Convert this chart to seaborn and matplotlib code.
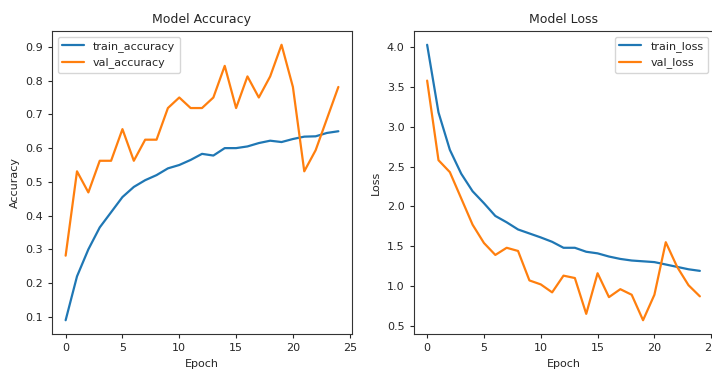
import numpy as np
import pandas as pd
import matplotlib
matplotlib.use("Agg")
import matplotlib.pyplot as plt
import seaborn as sns

# training history
epochs = list(range(25))
train_accuracy = [0.09, 0.22, 0.30, 0.365, 0.41, 0.455, 0.485, 0.505, 0.52, 0.54,
                  0.55, 0.565, 0.583, 0.578, 0.60, 0.60, 0.605, 0.615, 0.622, 0.618,
                  0.627, 0.634, 0.635, 0.645, 0.65]
val_accuracy = [0.28125, 0.53125, 0.46875, 0.5625, 0.5625, 0.65625, 0.5625, 0.625, 0.625, 0.71875,
                0.75, 0.71875, 0.71875, 0.75, 0.84375, 0.71875, 0.8125, 0.75, 0.8125, 0.90625,
                0.78125, 0.53125, 0.59375, 0.6875, 0.78125]
train_loss = [4.03, 3.18, 2.71, 2.41, 2.19, 2.04, 1.88, 1.80, 1.71, 1.66,
              1.61, 1.555, 1.48, 1.48, 1.43, 1.41, 1.37, 1.34, 1.32, 1.31,
              1.30, 1.27, 1.24, 1.21, 1.19]
val_loss = [3.58, 2.58, 2.43, 2.10, 1.77, 1.54, 1.39, 1.48, 1.44, 1.07,
            1.02, 0.92, 1.13, 1.10, 0.65, 1.16, 0.86, 0.96, 0.89, 0.57,
            0.89, 1.55, 1.24, 1.01, 0.87]

sns.set_style("ticks")
plt.rcParams['font.family'] = ['DejaVu Sans']
colors = ["#1f77b4", "#ff7f0e"]

acc = pd.DataFrame({'Epoch': epochs * 2,
                    'value': train_accuracy + val_accuracy,
                    'series': ['train_accuracy'] * 25 + ['val_accuracy'] * 25})
loss = pd.DataFrame({'Epoch': epochs * 2,
                     'value': train_loss + val_loss,
                     'series': ['train_loss'] * 25 + ['val_loss'] * 25})

fig = plt.figure(figsize=(7.12, 3.78), dpi=100)
ax1 = fig.add_axes([52 / 712, 44 / 378, 300 / 712, 303 / 378])
ax2 = fig.add_axes([413.5 / 712, 44 / 378, 300 / 712, 303 / 378])

sns.lineplot(data=acc, x='Epoch', y='value', hue='series', palette=colors, ax=ax1, linewidth=1.6)
ax1.set_title("Model Accuracy", fontsize=9)
ax1.set_ylabel("Accuracy", fontsize=8)
ax1.set_xlabel("Epoch", fontsize=8)
ax1.legend(loc="upper left", fontsize=8)

sns.lineplot(data=loss, x='Epoch', y='value', hue='series', palette=colors, ax=ax2, linewidth=1.6)
ax2.set_title("Model Loss", fontsize=9)
ax2.set_ylabel("Loss", fontsize=8)
ax2.set_xlabel("Epoch", fontsize=8)
ax2.legend(loc="upper right", fontsize=8)

for ax in (ax1, ax2):
    ax.set_xticks([0, 5, 10, 15, 20, 25])
    ax.set_xlim(-1.2, 25.2)
    ax.tick_params(labelsize=8, length=3)
    for s in ax.spines.values():
        s.set_visible(True)
        s.set_color("#333333")
        s.set_linewidth(0.8)

fig.savefig("out.png", dpi=100)
